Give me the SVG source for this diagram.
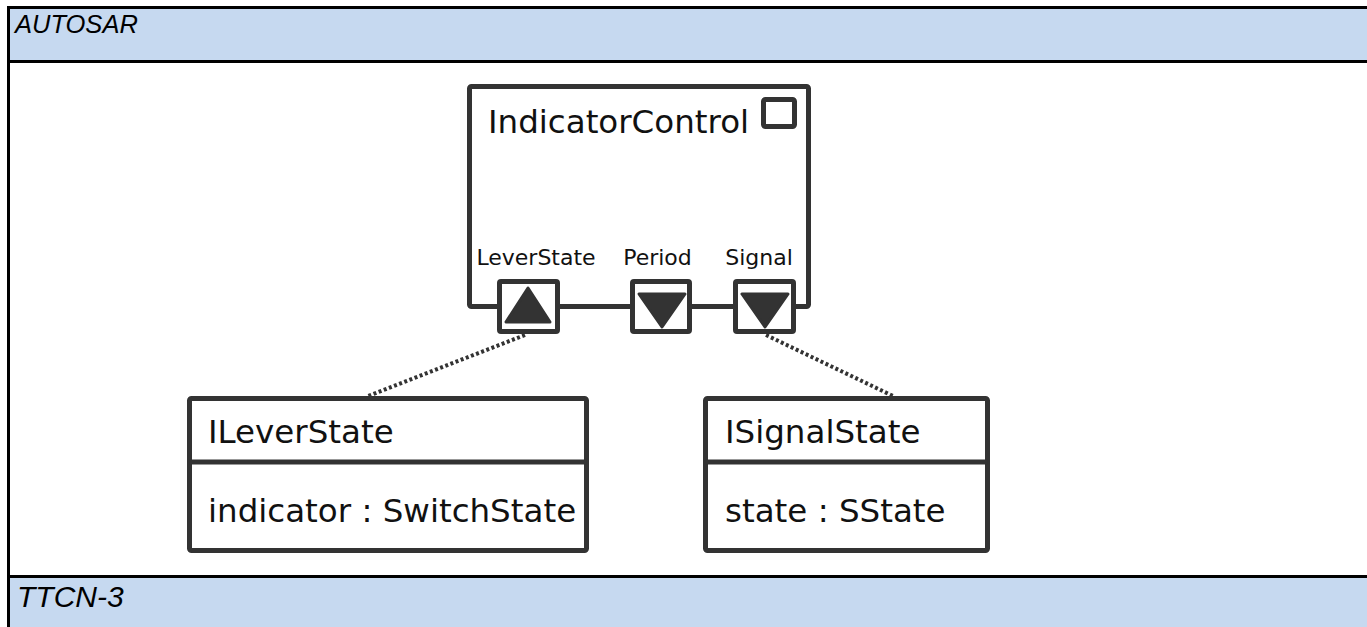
<svg xmlns="http://www.w3.org/2000/svg" width="1367" height="627" viewBox="0 0 1367 627">
  <style>
    .band { fill: #c6d9f0; }
    .frame { stroke: #000; stroke-width: 3; fill: none; }
    .band-label { font-family: "Liberation Sans", Arial, sans-serif; font-style: italic; fill: #000; }
    .node { fill: #fff; stroke: #333; stroke-width: 5; stroke-linejoin: round; }
    .edge { stroke: #333; stroke-width: 5; fill: none; }
    .dep { stroke: #333; stroke-width: 4; fill: none; stroke-dasharray: 3 2.5; }
    .tri { fill: #333; stroke: #333; stroke-width: 3; stroke-linejoin: round; }
    .t { font-family: "DejaVu Sans", Verdana, sans-serif; fill: #111; }
    .big { font-size: 32.5px; }
    .port-label { font-size: 22px; text-anchor: middle; }
  </style>

  <!-- swimlane bands -->
  <g id="lanes">
    <rect x="0" y="0" width="1367" height="627" fill="#fff"/>
    <rect class="band" x="8.5" y="7.5" width="1360" height="54"/>
    <rect class="band" x="8.5" y="576.5" width="1360" height="52"/>
    <line class="frame" x1="7" y1="7.5" x2="1367" y2="7.5"/>
    <line class="frame" x1="7" y1="61.5" x2="1367" y2="61.5"/>
    <line class="frame" x1="7" y1="576.5" x2="1367" y2="576.5"/>
    <line class="frame" x1="8.5" y1="6" x2="8.5" y2="627"/>
    <text class="band-label" x="15" y="33" font-size="25.5">AUTOSAR</text>
    <text class="band-label" x="17" y="607" font-size="30">TTCN-3</text>
  </g>

  <!-- component with its ports -->
  <g id="IndicatorControl">
    <rect class="node" x="469.5" y="86.5" width="339" height="220" rx="2"/>
    <rect class="node" x="763.5" y="99.5" width="31" height="27" rx="2"/>
    <text class="t big" x="488" y="133">IndicatorControl</text>
  </g>

  <g id="port-LeverState">
    <rect class="node" x="499.5" y="281.5" width="58" height="50" rx="1.5"/>
    <polygon class="tri" points="528,288 506,322 550,322"/>
    <text class="t port-label" x="536" y="265">LeverState</text>
  </g>

  <g id="port-Period">
    <rect class="node" x="632.5" y="281.5" width="57" height="50" rx="1.5"/>
    <polygon class="tri" points="639,294 685,294 662,327"/>
    <text class="t port-label" x="657.5" y="265">Period</text>
  </g>

  <g id="port-Signal">
    <rect class="node" x="735.5" y="281.5" width="58" height="50" rx="1.5"/>
    <polygon class="tri" points="742,294 788,294 765,327"/>
    <text class="t port-label" x="759" y="265">Signal</text>
  </g>

  <!-- interface classes -->
  <g id="ILeverState">
    <rect class="node" x="189.5" y="398.5" width="397" height="152" rx="2"/>
    <line class="edge" x1="189.5" y1="462" x2="586.5" y2="462"/>
    <text class="t big" x="208" y="443">ILeverState</text>
    <text class="t big" x="208" y="522">indicator : SwitchState</text>
  </g>

  <g id="ISignalState">
    <rect class="node" x="705.5" y="398.5" width="282" height="152" rx="2"/>
    <line class="edge" x1="705.5" y1="462" x2="987.5" y2="462"/>
    <text class="t big" x="725" y="443">ISignalState</text>
    <text class="t big" x="725" y="522">state : SState</text>
  </g>

  <!-- dependency connectors -->
  <g id="connectors">
    <line class="dep" x1="525" y1="335" x2="368" y2="396"/>
    <line class="dep" x1="766" y1="335" x2="893" y2="396"/>
  </g>
</svg>
